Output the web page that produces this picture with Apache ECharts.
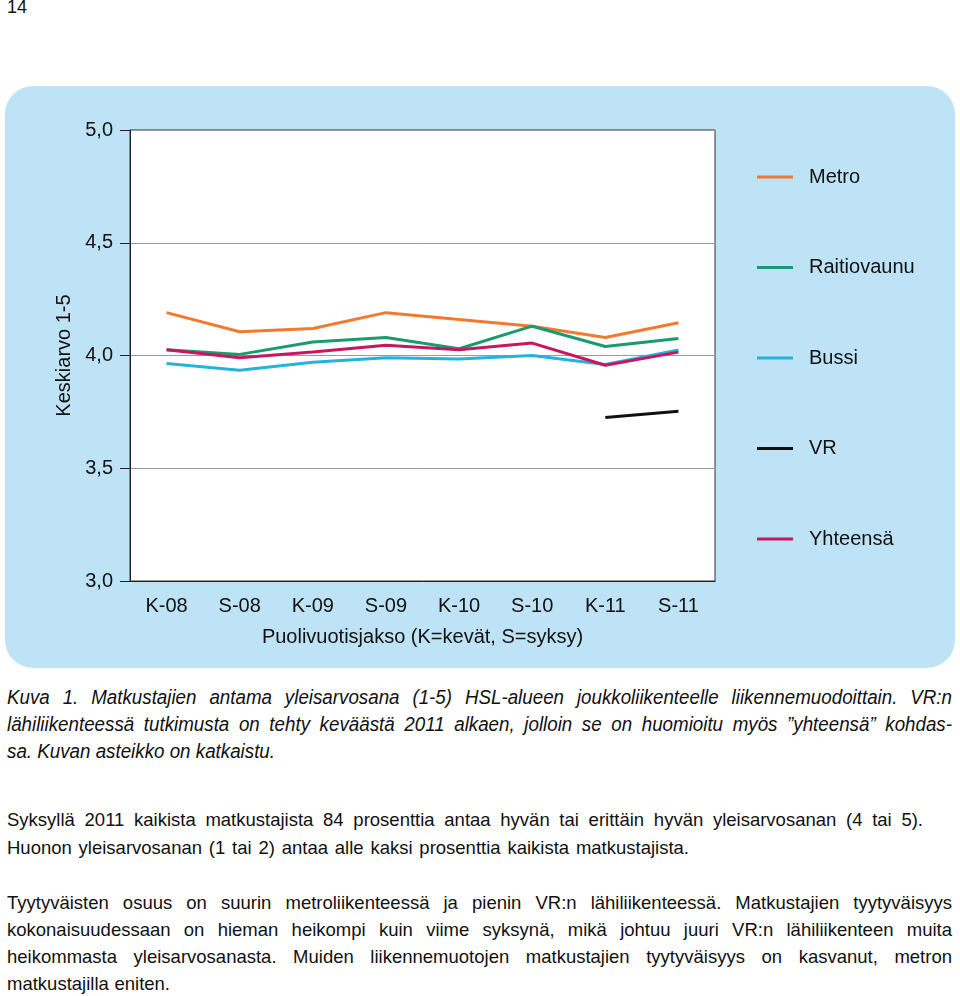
<!DOCTYPE html>
<html><head><meta charset="utf-8">
<script src="https://cdn.jsdelivr.net/npm/echarts@6/dist/echarts.min.js"></script>
<style>
html,body{margin:0;padding:0;background:#fff;width:960px;height:996px;overflow:hidden;font-family:'Liberation Sans',Arial,sans-serif;color:#111}
#pn{position:absolute;left:7px;top:-3px;font-size:18px;line-height:20px}
#chart{position:absolute;left:5px;top:86px;width:950px;height:582px;background:#bee3f6;border-radius:28px;}
.ln{position:absolute;left:7px;white-space:nowrap;line-height:22px;transform-origin:0 50%}
.cap{font-style:italic;font-size:20.5px}
.par{font-size:18.5px}
</style></head>
<body>
<div id="pn">14</div>
<div id="chart"></div>
<div id="text"></div>
<script>
const categories = ['K-08','S-08','K-09','S-09','K-10','S-10','K-11','S-11'];
const metro       = [4.19, 4.105, 4.12, 4.19, 4.16, 4.13, 4.08, 4.145];
const raitiovaunu = [4.025, 4.005, 4.06, 4.08, 4.03, 4.13, 4.04, 4.075];
const bussi       = [3.965, 3.935, 3.97, 3.99, 3.985, 4.00, 3.96, 4.025];
const vr          = [null, null, null, null, null, null, 3.725, 3.753];
const yhteensa    = [4.025, 3.99, 4.015, 4.045, 4.025, 4.055, 3.957, 4.015];
const seriesNames = ['Metro','Raitiovaunu','Bussi','VR','Yhteensä'];
const seriesColors = ['#f27a2e','#1b9a6e','#27b2dc','#111111','#c8175e'];
const yTicks = [3.0, 3.5, 4.0, 4.5, 5.0];
const yAxisName = 'Keskiarvo 1-5';
const xAxisName = 'Puolivuotisjakso (K=kevät, S=syksy)';

const captionLines = [
 ['Kuva 1. Matkustajien antama yleisarvosana (1-5) HSL-alueen joukkoliikenteelle liikennemuodoittain. VR:n', 697, 945],
 ['lähiliikenteessä tutkimusta on tehty keväästä 2011 alkaen, jolloin se on huomioitu myös ”yhteensä” kohdas-', 724, 945],
 ['sa. Kuvan asteikko on katkaistu.', 751, 268]
];
const paraLines = [
 ['Syksyllä 2011 kaikista matkustajista 84 prosenttia antaa hyvän tai erittäin hyvän yleisarvosanan (4 tai 5).', 820, 916],
 ['Huonon yleisarvosanan (1 tai 2) antaa alle kaksi prosenttia kaikista matkustajista.', 848, 682],
 ['Tyytyväisten osuus on suurin metroliikenteessä ja pienin VR:n lähiliikenteessä. Matkustajien tyytyväisyys', 903, 945],
 ['kokonaisuudessaan on hieman heikompi kuin viime syksynä, mikä johtuu juuri VR:n lähiliikenteen muita', 930, 945],
 ['heikommasta yleisarvosanasta. Muiden liikennemuotojen matkustajien tyytyväisyys on kasvanut, metron', 957, 945],
 ['matkustajilla eniten.', 984, 163]
];

const fmt = v => v.toFixed(1).replace('.', ',');
const dataSets = [metro, raitiovaunu, bussi, vr, yhteensa];
const FS = 20;
const chart = echarts.init(document.getElementById('chart'), null, {renderer:'canvas'});
chart.setOption({
  animation:false,
  textStyle:{fontFamily:'Liberation Sans, Arial, sans-serif'},
  grid:{left:125, top:44, right:240, bottom:87, show:true, backgroundColor:'#fff', borderColor:'#333', borderWidth:1},
  legend:{
    orient:'vertical', left:747, top:76, itemWidth:36, itemHeight:3, itemGap:70.5, icon:'rect',
    textStyle:{fontSize:FS, color:'#111', lineHeight:20, padding:[0,0,0,11]},
    data: seriesNames
  },
  xAxis:{
    type:'category', data:categories, boundaryGap:true,
    axisLine:{show:true, lineStyle:{color:'#222', width:1}},
    axisTick:{show:false},
    axisLabel:{fontSize:FS, color:'#111', margin:15, interval:0},
    name:xAxisName, nameLocation:'middle', nameGap:46,
    nameTextStyle:{fontSize:FS, color:'#111'}
  },
  yAxis:{
    type:'value', min:yTicks[0], max:yTicks[yTicks.length-1], interval:0.5,
    axisLine:{show:true, lineStyle:{color:'#222', width:1}},
    axisTick:{show:true, length:10, lineStyle:{color:'#222'}},
    axisLabel:{fontSize:FS, color:'#111', margin:17, formatter:fmt},
    splitLine:{show:true, lineStyle:{color:'#9a9a9a', width:1}},
    name:yAxisName, nameLocation:'middle', nameGap:51, nameRotate:90,
    nameTextStyle:{fontSize:FS, color:'#111'}
  },
  series: seriesNames.map((n,i)=>({
    name:n, type:'line', data:dataSets[i], symbol:'none', connectNulls:false,
    lineStyle:{width:3, color:seriesColors[i]}, itemStyle:{color:seriesColors[i]}
  }))
});

function place(lines, cls){
  const host = document.getElementById('text');
  return lines.map(l=>{
    const d = document.createElement('div');
    d.className = 'ln ' + cls;
    d.style.top = (l[1]-11)+'px';
    const s = document.createElement('span');
    s.textContent = l[0];
    d.appendChild(s);
    host.appendChild(d);
    return [d, s, l];
  });
}
function fit(els, scaleFromLast){
  let sc = 1;
  if (scaleFromLast){
    const last = els[els.length-1];
    sc = last[2][2] / last[1].getBoundingClientRect().width;
  }
  els.forEach(([d,s,l])=>{
    d.style.transform = 'scaleX('+sc+')';
    const w = s.getBoundingClientRect().width / sc;
    const spaces = (l[0].match(/ /g)||[]).length;
    const target = l[2]/sc;
    if (spaces>0) s.style.wordSpacing = ((target - w)/spaces)+'px';
  });
}
fit(place(captionLines,'cap'), true);
fit(place(paraLines,'par'), false);
</script>
</body></html>
